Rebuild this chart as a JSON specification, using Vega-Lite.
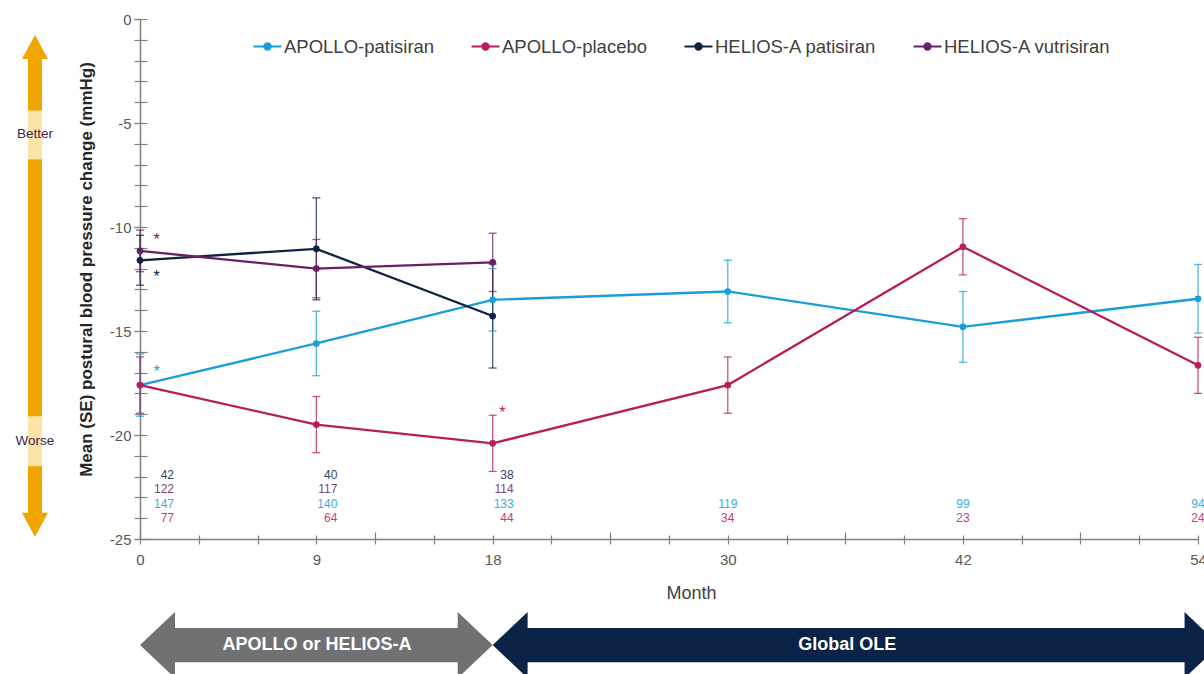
{
  "$schema": "https://vega.github.io/schema/vega-lite/v6.json",
  "width": 1058,
  "height": 520,
  "autosize": {"type": "none"},
  "padding": {"left": 140, "top": 19, "right": 6, "bottom": 135},
  "background": "white",
  "config": {"view": {"stroke": null}, "font": "Liberation Sans", "axis": {"labelOverlap": false, "labelBound": false}},
  "resolve": {"axis": {"y": "independent"}},
  "datasets": {
    "means": [
      {"series": "APOLLO-patisiran", "month": 0, "mean": -17.6, "lo": -19.1, "hi": -16.1},
      {"series": "APOLLO-patisiran", "month": 9, "mean": -15.6, "lo": -17.15, "hi": -14.05},
      {"series": "APOLLO-patisiran", "month": 18, "mean": -13.5, "lo": -15.0, "hi": -12.0},
      {"series": "APOLLO-patisiran", "month": 30, "mean": -13.1, "lo": -14.6, "hi": -11.6},
      {"series": "APOLLO-patisiran", "month": 42, "mean": -14.8, "lo": -16.5, "hi": -13.1},
      {"series": "APOLLO-patisiran", "month": 54, "mean": -13.45, "lo": -15.1, "hi": -11.8},
      {"series": "APOLLO-placebo", "month": 0, "mean": -17.6, "lo": -18.95, "hi": -16.25},
      {"series": "APOLLO-placebo", "month": 9, "mean": -19.5, "lo": -20.85, "hi": -18.15},
      {"series": "APOLLO-placebo", "month": 18, "mean": -20.4, "lo": -21.75, "hi": -19.05},
      {"series": "APOLLO-placebo", "month": 30, "mean": -17.6, "lo": -18.95, "hi": -16.25},
      {"series": "APOLLO-placebo", "month": 42, "mean": -10.95, "lo": -12.3, "hi": -9.6},
      {"series": "APOLLO-placebo", "month": 54, "mean": -16.65, "lo": -18.0, "hi": -15.3},
      {"series": "HELIOS-A patisiran", "month": 0, "mean": -11.6, "lo": -12.8, "hi": -10.4},
      {"series": "HELIOS-A patisiran", "month": 9, "mean": -11.05, "lo": -13.5, "hi": -8.6},
      {"series": "HELIOS-A patisiran", "month": 18, "mean": -14.28, "lo": -16.78, "hi": -11.78},
      {"series": "HELIOS-A vutrisiran", "month": 0, "mean": -11.15, "lo": -12.15, "hi": -10.15},
      {"series": "HELIOS-A vutrisiran", "month": 9, "mean": -12.0, "lo": -13.4, "hi": -10.6},
      {"series": "HELIOS-A vutrisiran", "month": 18, "mean": -11.7, "lo": -13.1, "hi": -10.3}
    ],
    "counts": [
      {"series": "HELIOS-A patisiran", "month": 0, "n": 42},
      {"series": "HELIOS-A patisiran", "month": 9, "n": 40},
      {"series": "HELIOS-A patisiran", "month": 18, "n": 38},
      {"series": "HELIOS-A vutrisiran", "month": 0, "n": 122},
      {"series": "HELIOS-A vutrisiran", "month": 9, "n": 117},
      {"series": "HELIOS-A vutrisiran", "month": 18, "n": 114},
      {"series": "APOLLO-patisiran", "month": 0, "n": 147},
      {"series": "APOLLO-patisiran", "month": 9, "n": 140},
      {"series": "APOLLO-patisiran", "month": 18, "n": 133},
      {"series": "APOLLO-patisiran", "month": 30, "n": 119},
      {"series": "APOLLO-patisiran", "month": 42, "n": 99},
      {"series": "APOLLO-patisiran", "month": 54, "n": 94},
      {"series": "APOLLO-placebo", "month": 0, "n": 77},
      {"series": "APOLLO-placebo", "month": 9, "n": 64},
      {"series": "APOLLO-placebo", "month": 18, "n": 44},
      {"series": "APOLLO-placebo", "month": 30, "n": 34},
      {"series": "APOLLO-placebo", "month": 42, "n": 23},
      {"series": "APOLLO-placebo", "month": 54, "n": 24}
    ],
    "stars": [
      {"series": "HELIOS-A vutrisiran", "month": 0.85, "y": -10.62},
      {"series": "HELIOS-A patisiran", "month": 0.85, "y": -12.4},
      {"series": "APOLLO-patisiran", "month": 0.85, "y": -16.97},
      {"series": "APOLLO-placebo", "month": 18.5, "y": -18.94}
    ],
    "phases": [
      {"phase": "APOLLO or HELIOS-A", "start": 0, "end": 18, "mid": 9.03},
      {"phase": "Global OLE", "start": 18, "end": 55.1, "mid": 36.1}
    ]
  },
  "layer": [
    {
      "data": {"values": [{}]},
      "mark": {"type": "rule", "strokeWidth": 14, "color": "#F0A500", "yOffset": 24, "y2Offset": -24, "strokeCap": "butt"},
      "encoding": {"x": {"datum": -5.36}, "y": {"datum": -0.77, "axis": null}, "y2": {"datum": -24.9}}
    },
    {
      "data": {"values": [{}]},
      "mark": {"type": "rule", "strokeWidth": 14, "color": "#FCE3A8", "strokeCap": "butt"},
      "encoding": {"x": {"datum": -5.36}, "y": {"datum": -4.4, "axis": null}, "y2": {"datum": -6.75}}
    },
    {
      "data": {"values": [{}]},
      "mark": {"type": "rule", "strokeWidth": 14, "color": "#FCE3A8", "strokeCap": "butt"},
      "encoding": {"x": {"datum": -5.36}, "y": {"datum": -19.1, "axis": null}, "y2": {"datum": -21.5}}
    },
    {
      "data": {"values": [{}]},
      "mark": {"type": "point", "filled": true, "color": "#F0A500", "opacity": 1, "size": 676, "shape": "M0,0L-1,1.85L1,1.85Z", "strokeWidth": 0},
      "encoding": {"x": {"datum": -5.36}, "y": {"datum": -0.77, "axis": null}}
    },
    {
      "data": {"values": [{}]},
      "mark": {"type": "point", "filled": true, "color": "#F0A500", "opacity": 1, "size": 676, "shape": "M0,0L-1,-1.85L1,-1.85Z", "strokeWidth": 0},
      "encoding": {"x": {"datum": -5.36}, "y": {"datum": -24.9, "axis": null}}
    },
    {
      "data": {"values": [{"t": "Better", "v": -5.55}, {"t": "Worse", "v": -20.3}]},
      "mark": {"type": "text", "fontSize": 13.5, "color": "#3B1F4E", "baseline": "middle", "align": "center"},
      "encoding": {"x": {"datum": -5.36}, "y": {"field": "v", "type": "quantitative", "axis": null}, "text": {"field": "t"}}
    },
    {
      "data": {"name": "phases"},
      "mark": {"type": "rect", "xOffset": 34, "x2Offset": -34},
      "encoding": {
        "x": {"field": "start", "type": "quantitative"},
        "x2": {"field": "end"},
        "y": {"datum": -29.28, "axis": null},
        "y2": {"datum": -30.92},
        "fill": {"field": "phase", "type": "nominal", "scale": {"domain": ["APOLLO or HELIOS-A", "Global OLE"], "range": ["#707172", "#0A2346"]}, "legend": null}
      }
    },
    {
      "data": {"name": "phases"},
      "mark": {"type": "point", "filled": true, "opacity": 1, "size": 4356, "shape": "M0,0L1.06,-1L1.06,1Z", "strokeWidth": 0},
      "encoding": {
        "x": {"field": "start", "type": "quantitative"},
        "y": {"datum": -30.1, "axis": null},
        "fill": {"field": "phase", "type": "nominal", "legend": null}
      }
    },
    {
      "data": {"name": "phases"},
      "mark": {"type": "point", "filled": true, "opacity": 1, "size": 4356, "shape": "M0,0L-1.06,-1L-1.06,1Z", "strokeWidth": 0},
      "encoding": {
        "x": {"field": "end", "type": "quantitative"},
        "y": {"datum": -30.1, "axis": null},
        "fill": {"field": "phase", "type": "nominal", "legend": null}
      }
    },
    {
      "data": {"name": "phases"},
      "mark": {"type": "text", "color": "white", "fontWeight": "bold", "fontSize": 18, "baseline": "middle", "align": "center"},
      "encoding": {
        "x": {"field": "mid", "type": "quantitative"},
        "y": {"datum": -30.1, "axis": null},
        "text": {"field": "phase"}
      }
    },
    {
      "data": {"name": "means"},
      "mark": {"type": "rule", "strokeWidth": 1.3, "opacity": 0.75},
      "encoding": {
        "x": {"field": "month", "type": "quantitative"},
        "y": {"field": "lo", "type": "quantitative", "axis": null},
        "y2": {"field": "hi"},
        "color": {"field": "series", "type": "nominal"}
      }
    },
    {
      "data": {"name": "means"},
      "mark": {"type": "tick", "orient": "horizontal", "size": 8, "thickness": 1.3, "opacity": 0.75},
      "encoding": {
        "x": {"field": "month", "type": "quantitative"},
        "y": {"field": "lo", "type": "quantitative", "axis": null},
        "color": {"field": "series", "type": "nominal"}
      }
    },
    {
      "data": {"name": "means"},
      "mark": {"type": "tick", "orient": "horizontal", "size": 8, "thickness": 1.3, "opacity": 0.75},
      "encoding": {
        "x": {"field": "month", "type": "quantitative"},
        "y": {"field": "hi", "type": "quantitative", "axis": null},
        "color": {"field": "series", "type": "nominal"}
      }
    },
    {
      "data": {"name": "means"},
      "mark": {"type": "line", "strokeWidth": 2.3},
      "encoding": {
        "x": {
          "field": "month", "type": "quantitative",
          "scale": {"domain": [0, 54], "nice": false, "zero": false},
          "axis": {
            "title": "Month",
            "values": [0, 3, 6, 9, 12, 15, 18, 21, 24, 27, 30, 33, 36, 39, 42, 45, 48, 51, 54],
            "labelExpr": "indexof([0, 9, 18, 30, 42, 54], datum.value) >= 0 ? datum.label : ''",
            "labelFlush": false,
            "labelOverlap": false,
            "labelFontSize": 15,
            "labelColor": "#595959",
            "labelPadding": 8,
            "tickSize": 5,
            "tickColor": "#808080",
            "tickWidth": 1.2,
            "domainColor": "#808080",
            "domainWidth": 1.5,
            "grid": true,
            "gridColor": "#808080",
            "gridWidth": 1.2,
            "gridDash": {"condition": {"test": "datum.value % 12 === 0", "value": [0, 513, 7, 3000]}, "value": [0, 516, 4, 3000]},
            "titleFontSize": 18,
            "titleFontWeight": "normal",
            "titleColor": "#404040",
            "titleX": 551,
            "titleY": 54,
            "titleBaseline": "middle"
          }
        },
        "y": {
          "field": "mean", "type": "quantitative",
          "scale": {"domain": [-25, 0], "nice": false, "zero": false},
          "axis": {
            "orient": "left",
            "title": "Mean (SE) postural blood pressure change (mmHg)",
            "values": [-25, -20, -15, -10, -5, 0],
            "labelExpr": "'' + datum.value",
            "labelFlush": false,
            "labelOverlap": false,
            "labelFontSize": 15,
            "labelColor": "#595959",
            "labelPadding": 3,
            "tickSize": 6,
            "tickColor": "#808080",
            "tickWidth": 1.2,
            "domainColor": "#808080",
            "domainWidth": 1.5,
            "grid": false,
            "titleFontSize": 17,
            "titleFontWeight": "bold",
            "titleColor": "#262626",
            "titleAngle": 270,
            "titleX": -54,
            "titleY": 250,
            "titleAlign": "center",
            "titleBaseline": "middle"
          }
        },
        "color": {
          "field": "series", "type": "nominal",
          "scale": {"domain": ["APOLLO-patisiran", "APOLLO-placebo", "HELIOS-A patisiran", "HELIOS-A vutrisiran"], "range": ["#1B9DD9", "#B71C5D", "#0E2241", "#6A2068"]},
          "legend": {
            "orient": "none",
            "legendX": 112,
            "legendY": 12,
            "direction": "horizontal",
            "title": null,
            "symbolType": "M-1,0H1M-0.22,0A0.22,0.22,0,1,1,0.22,0A0.22,0.22,0,1,1,-0.22,0Z",
            "symbolSize": 784,
            "symbolStrokeWidth": 2.2,
            "labelFont": "Liberation Sans",
            "labelFontSize": 18.5,
            "labelLimit": 400,
            "labelColor": "#404040",
            "labelOffset": 1,
            "columnPadding": 32,
            "encode": {"symbols": {"update": {"fill": {"scale": "color", "field": "value"}, "stroke": {"scale": "color", "field": "value"}, "opacity": {"value": 1}}}}
          }
        }
      }
    },
    {
      "data": {"name": "means"},
      "mark": {"type": "point", "filled": true, "size": 45, "opacity": 1},
      "encoding": {
        "x": {"field": "month", "type": "quantitative"},
        "y": {
          "field": "mean", "type": "quantitative",
          "axis": {
            "orient": "left",
            "title": null,
            "values": [-25, -24, -23, -22, -21, -20, -19, -18, -17, -16, -15, -14, -13, -12, -11, -10, -9, -8, -7, -6, -5, -4, -3, -2, -1, 0],
            "labels": false,
            "domain": false,
            "tickSize": 6,
            "tickColor": "#808080",
            "tickWidth": 1.2,
            "grid": true,
            "gridColor": "#808080",
            "gridWidth": 1.2,
            "gridDash": [7, 3000]
          }
        },
        "color": {"field": "series", "type": "nominal"}
      }
    },
    {
      "data": {"name": "stars"},
      "mark": {"type": "text", "fontSize": 16, "baseline": "middle", "align": "center"},
      "encoding": {
        "x": {"field": "month", "type": "quantitative"},
        "y": {"field": "y", "type": "quantitative", "axis": null},
        "text": {"value": "*"},
        "color": {"field": "series", "type": "nominal"}
      }
    },
    {
      "data": {"name": "counts"},
      "transform": [{"filter": "datum.series === 'HELIOS-A patisiran'"}],
      "mark": {"type": "text", "fontSize": 12, "baseline": "middle", "opacity": 0.85, "align": {"expr": "datum.month >= 30 ? 'center' : 'right'"}, "dx": {"expr": "datum.month === 0 ? 34 : (datum.month < 30 ? 21 : 0)"}},
      "encoding": {"x": {"field": "month", "type": "quantitative"}, "y": {"datum": -21.9, "axis": null}, "text": {"field": "n"}, "color": {"field": "series", "type": "nominal"}}
    },
    {
      "data": {"name": "counts"},
      "transform": [{"filter": "datum.series === 'HELIOS-A vutrisiran'"}],
      "mark": {"type": "text", "fontSize": 12, "baseline": "middle", "opacity": 0.85, "align": {"expr": "datum.month >= 30 ? 'center' : 'right'"}, "dx": {"expr": "datum.month === 0 ? 34 : (datum.month < 30 ? 21 : 0)"}},
      "encoding": {"x": {"field": "month", "type": "quantitative"}, "y": {"datum": -22.6, "axis": null}, "text": {"field": "n"}, "color": {"field": "series", "type": "nominal"}}
    },
    {
      "data": {"name": "counts"},
      "transform": [{"filter": "datum.series === 'APOLLO-patisiran'"}],
      "mark": {"type": "text", "fontSize": 12, "baseline": "middle", "opacity": 0.85, "align": {"expr": "datum.month >= 30 ? 'center' : 'right'"}, "dx": {"expr": "datum.month === 0 ? 34 : (datum.month < 30 ? 21 : 0)"}},
      "encoding": {"x": {"field": "month", "type": "quantitative"}, "y": {"datum": -23.3, "axis": null}, "text": {"field": "n"}, "color": {"field": "series", "type": "nominal"}}
    },
    {
      "data": {"name": "counts"},
      "transform": [{"filter": "datum.series === 'APOLLO-placebo'"}],
      "mark": {"type": "text", "fontSize": 12, "baseline": "middle", "opacity": 0.85, "align": {"expr": "datum.month >= 30 ? 'center' : 'right'"}, "dx": {"expr": "datum.month === 0 ? 34 : (datum.month < 30 ? 21 : 0)"}},
      "encoding": {"x": {"field": "month", "type": "quantitative"}, "y": {"datum": -24.0, "axis": null}, "text": {"field": "n"}, "color": {"field": "series", "type": "nominal"}}
    }
  ]
}
